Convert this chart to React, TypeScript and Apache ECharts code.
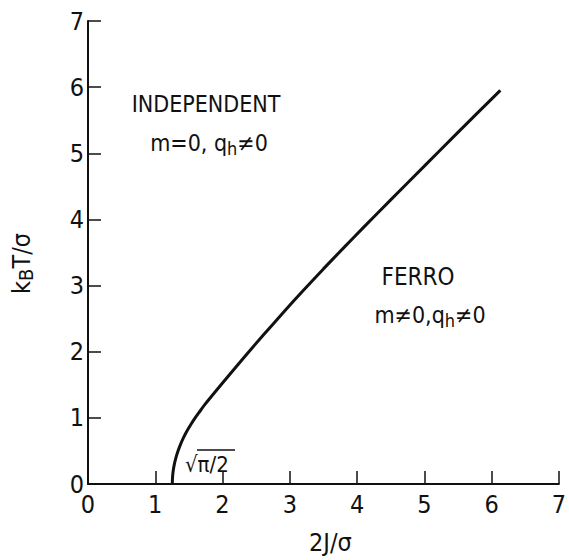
import React, { useEffect, useRef } from "react";
import * as echarts from "echarts";

const xTicks = [0, 1, 2, 3, 4, 5, 6, 7];
const yTicks = [0, 1, 2, 3, 4, 5, 6, 7];
const curveX = [1.2533, 1.2567, 1.2669, 1.2839, 1.3077, 1.3383, 1.3757, 1.42, 1.471, 1.529, 1.593, 1.664, 1.736, 2.0, 2.3, 2.6, 2.9, 3.2, 3.5, 3.8, 4.1, 4.5, 5.0, 5.5, 6.13];
const curveY = [0, 0.1, 0.2, 0.3, 0.4, 0.5, 0.6, 0.7, 0.8, 0.9, 1.0, 1.1, 1.2, 1.527, 1.89, 2.244, 2.589, 2.925, 3.252, 3.57, 3.884, 4.296, 4.806, 5.316, 5.952];

const FONT = "'Liberation Sans Narrow', 'DejaVu Sans Condensed', 'Liberation Sans', sans-serif";

export default function App() {
  const ref = useRef<HTMLDivElement>(null);
  useEffect(() => {
    if (!ref.current) return;
    const chart = echarts.init(ref.current, null, { renderer: "svg" });
    const data = curveX.map((x, i) => [x, curveY[i]]);
    const axisCommon = {
      type: "value" as const,
      min: 0,
      max: 7,
      interval: 1,
      splitLine: { show: false },
      axisLine: { show: true, lineStyle: { color: "#111", width: 2 } },
      axisTick: { show: true, inside: true, length: 13, lineStyle: { color: "#111", width: 1.5 } },
    };
    const richMain = { fontSize: 23, lineHeight: 28, fontFamily: FONT, fill: "#111", verticalAlign: "middle" };
    const richSub = { fontSize: 18, lineHeight: 18, fontFamily: FONT, fill: "#111", verticalAlign: "bottom" };
    chart.setOption({
      animation: false,
      backgroundColor: "#fff",
      grid: { left: 88, right: 8, top: 21, bottom: 71, containLabel: false },
      xAxis: {
        ...axisCommon,
        axisLabel: { fontSize: 25, color: "#111", fontFamily: FONT, margin: 8, formatter: (v: number) => (xTicks.includes(v) ? String(v) : "") },
        name: "2J/σ",
        nameLocation: "middle",
        nameGap: 46,
        nameTextStyle: { fontSize: 25, color: "#111", fontFamily: FONT, padding: [0, 0, 0, 14] },
      },
      yAxis: {
        ...axisCommon,
        axisLabel: { fontSize: 25, color: "#111", fontFamily: FONT, margin: 4, formatter: (v: number) => (yTicks.includes(v) ? String(v) : "") },
        name: "{a|k}{b|B}{a|T/σ}",
        nameLocation: "middle",
        nameGap: 52,
        nameRotate: 90,
        nameTextStyle: {
          color: "#111",
          fontFamily: FONT,
          padding: [0, 22, 0, 0],
          rich: {
            a: { fontSize: 25, lineHeight: 30, color: "#111", fontFamily: FONT, verticalAlign: "middle" },
            b: { fontSize: 20, lineHeight: 20, color: "#111", fontFamily: FONT, verticalAlign: "bottom" },
          },
        },
      },
      series: [
        {
          type: "line",
          data,
          showSymbol: false,
          smooth: 0.3,
          lineStyle: { color: "#111", width: 3 },
        },
      ],
      graphic: [
        {
          type: "text",
          x: 206,
          y: 104,
          style: { text: "INDEPENDENT", fontSize: 23, fontFamily: FONT, fill: "#111", align: "center", verticalAlign: "middle" },
        },
        {
          type: "text",
          x: 209,
          y: 143,
          style: {
            text: "{a|m=0, q}{s|h}{a|≠0}",
            align: "center",
            verticalAlign: "middle",
            rich: { a: richMain, s: richSub },
          },
        },
        {
          type: "text",
          x: 418,
          y: 277,
          style: { text: "FERRO", fontSize: 24, fontFamily: FONT, fill: "#111", align: "center", verticalAlign: "middle" },
        },
        {
          type: "text",
          x: 430,
          y: 315,
          style: {
            text: "{a|m≠0,q}{s|h}{a|≠0}",
            align: "center",
            verticalAlign: "middle",
            rich: { a: richMain, s: richSub },
          },
        },
        {
          type: "text",
          x: 185,
          y: 464,
          style: { text: "√π/2", fontSize: 22, fontFamily: FONT, fill: "#111", align: "left", verticalAlign: "middle" },
        },
        {
          type: "line",
          shape: { x1: 197, y1: 450, x2: 235, y2: 450 },
          style: { stroke: "#111", lineWidth: 1.5 },
        },
      ],
    });
    return () => chart.dispose();
  }, []);
  return <div ref={ref} style={{ position: "fixed", left: 0, top: 0, width: 569, height: 560, background: "#fff" }} />;
}
